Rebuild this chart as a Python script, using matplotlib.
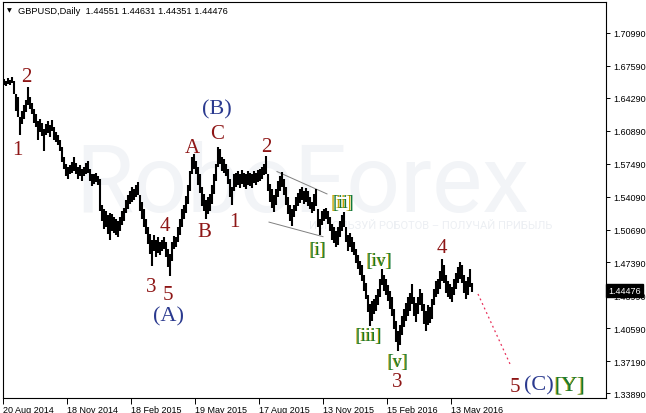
import numpy as np
import matplotlib.pyplot as plt
from matplotlib import transforms

W, H = 646, 414

# daily GBPUSD in 2-day steps (high / low)
bar_high = [
    1.662, 1.660, 1.663, 1.661, 1.664, 1.660, 1.647, 1.644, 1.623, 1.629,
    1.635, 1.641, 1.654, 1.644, 1.638, 1.631, 1.626, 1.619, 1.621, 1.617,
    1.611, 1.616, 1.619, 1.615, 1.620, 1.613, 1.608, 1.605, 1.600, 1.592,
    1.582, 1.575, 1.572, 1.574, 1.577, 1.582, 1.576, 1.572, 1.574, 1.570,
    1.572, 1.576, 1.578, 1.570, 1.565, 1.564, 1.566, 1.562, 1.559, 1.533,
    1.528, 1.526, 1.522, 1.524, 1.523, 1.520, 1.518, 1.516, 1.520, 1.526,
    1.530, 1.538, 1.543, 1.547, 1.551, 1.549, 1.553, 1.556, 1.543, 1.536,
    1.528, 1.518, 1.510, 1.503, 1.497, 1.502, 1.497, 1.500, 1.495, 1.497,
    1.500, 1.495, 1.487, 1.482, 1.495, 1.501, 1.500, 1.510, 1.518, 1.528,
    1.533, 1.542, 1.553, 1.568, 1.582, 1.585, 1.578, 1.572, 1.564, 1.551,
    1.544, 1.538, 1.541, 1.544, 1.553, 1.565, 1.575, 1.592, 1.590, 1.582,
    1.580, 1.575, 1.570, 1.559, 1.551, 1.564, 1.566, 1.568, 1.565, 1.569,
    1.566, 1.564, 1.568, 1.566, 1.564, 1.568, 1.566, 1.569, 1.570, 1.572,
    1.575, 1.583, 1.565, 1.554, 1.549, 1.543, 1.549, 1.557, 1.562, 1.567,
    1.559, 1.551, 1.541, 1.533, 1.528, 1.533, 1.541, 1.545, 1.549, 1.551,
    1.547, 1.550, 1.547, 1.541, 1.536, 1.544, 1.549, 1.528, 1.518, 1.526,
    1.528, 1.530, 1.526, 1.520, 1.513, 1.510, 1.506, 1.510, 1.516, 1.522,
    1.525, 1.510, 1.502, 1.504, 1.500, 1.495, 1.487, 1.481, 1.475, 1.471,
    1.461, 1.452, 1.440, 1.431, 1.434, 1.436, 1.440, 1.446, 1.456, 1.467,
    1.461, 1.456, 1.450, 1.444, 1.438, 1.426, 1.413, 1.403, 1.409, 1.418,
    1.426, 1.432, 1.438, 1.442, 1.451, 1.438, 1.432, 1.438, 1.446, 1.442,
    1.431, 1.424, 1.430, 1.428, 1.436, 1.446, 1.454, 1.456, 1.465, 1.477,
    1.471, 1.461, 1.454, 1.451, 1.448, 1.456, 1.463, 1.469, 1.474, 1.471,
    1.461, 1.454, 1.458, 1.467, 1.452,
]
bar_low = [
    1.656, 1.655, 1.657, 1.656, 1.658, 1.647, 1.629, 1.623, 1.605, 1.616,
    1.621, 1.628, 1.636, 1.631, 1.626, 1.617, 1.613, 1.600, 1.608, 1.604,
    1.588, 1.605, 1.607, 1.603, 1.609, 1.600, 1.597, 1.594, 1.588, 1.577,
    1.570, 1.562, 1.559, 1.564, 1.566, 1.568, 1.564, 1.559, 1.562, 1.557,
    1.562, 1.564, 1.566, 1.557, 1.552, 1.554, 1.556, 1.553, 1.526, 1.516,
    1.508, 1.510, 1.503, 1.497, 1.506, 1.504, 1.502, 1.500, 1.506, 1.512,
    1.516, 1.524, 1.528, 1.534, 1.536, 1.538, 1.541, 1.543, 1.526, 1.518,
    1.510, 1.503, 1.492, 1.482, 1.470, 1.485, 1.479, 1.483, 1.481, 1.485,
    1.487, 1.479, 1.469, 1.460, 1.475, 1.487, 1.489, 1.495, 1.502, 1.510,
    1.518, 1.524, 1.534, 1.547, 1.564, 1.570, 1.564, 1.553, 1.545, 1.532,
    1.526, 1.518, 1.523, 1.526, 1.534, 1.544, 1.557, 1.572, 1.575, 1.568,
    1.566, 1.562, 1.554, 1.541, 1.533, 1.547, 1.551, 1.553, 1.550, 1.554,
    1.551, 1.549, 1.553, 1.552, 1.550, 1.555, 1.553, 1.556, 1.557, 1.559,
    1.563, 1.565, 1.547, 1.536, 1.530, 1.525, 1.533, 1.541, 1.547, 1.551,
    1.543, 1.533, 1.523, 1.516, 1.511, 1.520, 1.526, 1.532, 1.535, 1.538,
    1.534, 1.536, 1.532, 1.528, 1.524, 1.526, 1.532, 1.510, 1.502, 1.512,
    1.516, 1.518, 1.513, 1.506, 1.497, 1.493, 1.489, 1.491, 1.500, 1.506,
    1.510, 1.495, 1.485, 1.489, 1.484, 1.481, 1.473, 1.467, 1.461, 1.454,
    1.444, 1.436, 1.422, 1.408, 1.413, 1.420, 1.424, 1.430, 1.438, 1.450,
    1.444, 1.440, 1.434, 1.426, 1.418, 1.405, 1.392, 1.382, 1.389, 1.399,
    1.407, 1.413, 1.418, 1.424, 1.431, 1.418, 1.412, 1.420, 1.430, 1.424,
    1.410, 1.403, 1.409, 1.411, 1.415, 1.430, 1.438, 1.441, 1.446, 1.454,
    1.452, 1.442, 1.438, 1.436, 1.433, 1.440, 1.446, 1.452, 1.456, 1.452,
    1.442, 1.436, 1.440, 1.448, 1.443,
]

header_ohlc = [1.44551, 1.44631, 1.44351, 1.44476]
last_price = 1.44476

date_labels = ["20 Aug 2014", "18 Nov 2014", "18 Feb 2015", "19 May 2015",
               "17 Aug 2015", "13 Nov 2015", "15 Feb 2016", "13 May 2016"]
date_days = [0, 64, 128, 192, 256, 320, 384, 448]
price_ticks = [1.70990, 1.67590, 1.64290, 1.60890, 1.57490, 1.54090,
               1.50690, 1.47390, 1.43990, 1.40590, 1.37190, 1.33890]

# wave marks (day index, price)
red_labels = ["1", "2", "A", "C", "2", "4", "B", "1", "3", "5", "4", "3", "5"]
red_days = [14, 23, 189, 214, 263, 162, 201, 231, 148, 165, 439, 394, 512]
red_prices = [1.590, 1.665, 1.592, 1.606, 1.593, 1.511, 1.505, 1.516,
              1.449, 1.441, 1.489, 1.351, 1.346]

navy_labels = ["(B)", "(A)", "(C)"]
navy_days = [214, 165, 536]
navy_prices = [1.632, 1.419, 1.347]

green_labels = ["[i]", "[ii]", "[iii]", "[iv]", "[v]", "[Y]"]
green_days = [315, 340, 366, 377, 395, 567]
green_prices = [1.487, 1.535, 1.398, 1.475, 1.372, 1.347]
green_sizes = [13, 13, 13, 13, 13, 16]

channel_top_days = [274, 324]
channel_top_prices = [1.567, 1.544]
channel_bot_days = [266, 320]
channel_bot_prices = [1.515, 1.500]
forecast_days = [475, 507]
forecast_prices = [1.441, 1.369]

RED = "#8e1616"
NAVY = "#2b3a8f"
GREEN = "#137a3c"
GOLD = "#c9a400"


def px(x, y):
    return x / W, 1 - y / H


fig = plt.figure(figsize=(W / 100, H / 100), dpi=100)
fig.patch.set_facecolor("white")

ax = fig.add_axes([3 / W, 15.5 / H, 603 / W, 395.5 / H])
ax.set_xlim(0, 603)
ax.set_ylim(1.3345, 1.7415)

# watermark, behind the bars
ax.text(*px(75, 212), "RoboForex", fontsize=68, family="Roboto",
        color="#f2f4f7", va="baseline", ha="left", zorder=0.5,
        transform=fig.transFigure)
ax.text(*px(552, 226), "ИСПОЛЬЗУЙ РОБОТОВ – ПОЛУЧАЙ ПРИБЫЛЬ", fontsize=8,
        family="Roboto", color="#eceff3", va="center", ha="right", zorder=0.5,
        transform=fig.transFigure)

days = np.arange(len(bar_high)) * 2 + 1
ax.vlines(days, bar_low, bar_high, colors="black", linewidth=1.5, zorder=3)

ax.plot(channel_top_days, channel_top_prices, color="#808080", lw=0.7, zorder=2)
ax.plot(channel_bot_days, channel_bot_prices, color="#808080", lw=0.7, zorder=2)
ax.plot(forecast_days, forecast_prices, color="#e8305a", lw=0.9,
        linestyle=(0, (1.5, 2.5)), zorder=2)

for t, d, p in zip(red_labels, red_days, red_prices):
    ax.text(d, p, t, color=RED, fontsize=15, family="Liberation Serif",
            ha="center", va="center", zorder=4)
for t, d, p in zip(navy_labels, navy_days, navy_prices):
    ax.text(d, p, t, color=NAVY, fontsize=16, family="Liberation Serif",
            ha="center", va="center", zorder=4)
shadow = transforms.offset_copy(ax.transData, fig=fig, x=-1, y=0, units="dots")
for t, d, p, s in zip(green_labels, green_days, green_prices, green_sizes):
    ax.text(d, p, t, color=GOLD, fontsize=s, family="Liberation Serif",
            ha="center", va="center", transform=shadow, zorder=4)
    ax.text(d, p, t, color=GREEN, fontsize=s, family="Liberation Serif",
            ha="center", va="center", zorder=4)

# axes and ticks
for sp in ax.spines.values():
    sp.set_linewidth(0.8)
    sp.set_color("black")
ax.yaxis.tick_right()
ax.set_yticks(price_ticks)
ax.set_yticklabels([f"{p:.5f}" for p in price_ticks], family="Liberation Sans")
ax.tick_params(axis="y", direction="out", length=3, width=0.7, pad=2,
               labelsize=6.5)
ax.set_xticks(date_days)
ax.set_xticklabels(date_labels, ha="left", family="Liberation Sans")
ax.tick_params(axis="x", direction="out", length=4, width=0.7, pad=1.5,
               labelsize=6.5)

# last price badge
badge = transforms.blended_transform_factory(ax.transAxes, ax.transData)
ax.text(1.004, last_price, f"{last_price:.5f}", transform=badge,
        color="white", fontsize=6.5, family="Liberation Sans", ha="left",
        va="center", clip_on=False, zorder=6,
        bbox=dict(boxstyle="square,pad=0.25", fc="black", ec="black"))

# header
fig.text(*px(7, 11), "▼", fontsize=4.5, family="DejaVu Sans", va="center",
         ha="left")
fig.text(*px(18, 11), "GBPUSD,Daily  " + " ".join(f"{v:.5f}" for v in header_ohlc),
         fontsize=6.7, family="Liberation Sans", va="center", ha="left")

fig.savefig("out.png", dpi=100)
